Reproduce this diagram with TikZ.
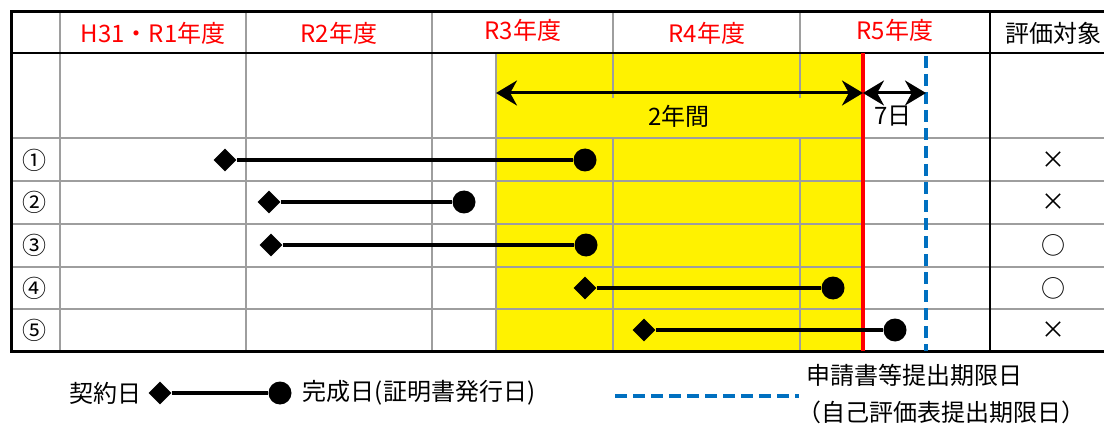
\documentclass[tikz,border=0pt]{standalone}
\usepackage{fontspec}
\setmainfont{Noto Sans CJK JP}
\usetikzlibrary{positioning,shapes.geometric,arrows.meta}
\definecolor{deadline}{RGB}{0,112,192}

\begin{document}
\begin{tikzpicture}
  [x=1pt, y=-1pt,
   every node/.style={inner sep=0pt, font=\fontsize{24}{26}\selectfont},
   year/.style={text=red},
   grid/.style={draw=black!38, line width=2pt},
   frame/.style={draw=black, line width=3pt},
   span/.style={line width=3.5pt},
   start/.style={diamond, fill=black, minimum size=23pt},
   finish/.style={circle, fill=black, minimum size=23pt},
   dim/.style={line width=3pt, {Stealth[length=21pt,width=25pt]}-{Stealth[length=21pt,width=25pt]}},
   limit/.style={draw=deadline, line width=3.5pt, dash pattern=on 12pt off 6pt}]
  \useasboundingbox (0,0) rectangle (1104,425);
  \fill[yellow] (496,53) rectangle (863,351);
  \foreach \y in {138,181,224,267,309}
    \draw[grid] (11,\y) -- (1120,\y);
  \foreach \x in {60,246,432}
    \draw[grid] (\x,12) -- (\x,351);
  \foreach \x in {613,800} {
    \draw[grid] (\x,12) -- (\x,98);
    \draw[grid] (\x,138) -- (\x,351);
  }
  \draw[grid] (496,53) -- (496,351);
  \draw[frame] (1120,12) -- (11,12) -- (11,351) -- (1120,351);
  \draw[frame, line width=2.5pt] (11,53) -- (1120,53);
  \draw[frame, line width=2pt] (990,12) -- (990,351);
  \draw[red, line width=3.5pt] (863,53) -- (863,351);
  \draw[limit] (926,56) -- (926,351);

  \node[year] (h31) at (153,33) {H31・R1年度};
  \node[year] (r2) at (339,33) {R2年度};
  \node[year] (r3) at (523,30) {R3年度};
  \node[year] (r4) at (707,33) {R4年度};
  \node[year] (r5) at (895,30) {R5年度};
  \node (eval) at (1053,33) {評価対象};

  \coordinate (from) at (496,93);
  \coordinate (cut) at (863,93);
  \coordinate (due) at (926,93);
  \draw[dim] (from) -- (cut);
  \draw[dim] (cut) -- (due);
  \node (twoyears) at (679,116) {2年間};
  \node (sevendays) at (893,116) {7日};

  \foreach \c/\y/\a/\b/\m [count=\n] in
    {①/160/225/585/×, ②/202/269/464/×, ③/245/271/586/○, ④/288/585/833/○, ⑤/330/644/895/×} {
    \node (num\n) at (35,\y) {\c};
    \node[start] (s\n) at (\a,\y) {};
    \node[finish] (f\n) at (\b,\y) {};
    \draw[span] (s\n) -- (f\n);
    \node (mark\n) at (1053,\y) {\m};
  }

  \node[start] (lstart) at (160,393) {};
  \node[finish] (lend) at (280,393) {};
  \draw[span] (lstart) -- (lend);
  \node[left=7pt of lstart] (contract) {契約日};
  \node[right=11pt of lend] (done) {完成日(証明書発行日)};
  \coordinate (lfrom) at (615,396);
  \coordinate (lto) at (799,396);
  \draw[limit] (lfrom) -- (lto);
  \node[anchor=west] (apply) at (806,375) {申請書等提出期限日};
  \node[anchor=west] (self) at (797,412) {（自己評価表提出期限日）};
\end{tikzpicture}
\end{document}
